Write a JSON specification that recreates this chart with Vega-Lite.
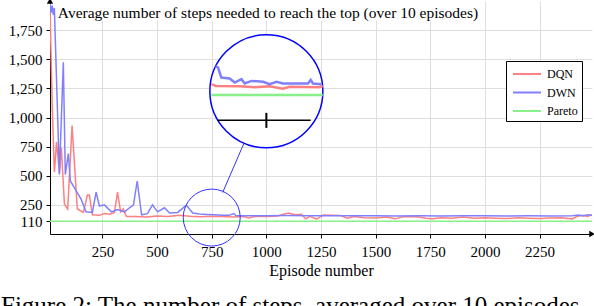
{
  "$schema": "https://vega.github.io/schema/vega-lite/v6.json",
  "width": 542,
  "height": 233,
  "autosize": "none",
  "padding": {"left": 50, "top": 1, "right": 2, "bottom": 72},
  "background": "white",
  "config": {
    "view": {"stroke": null},
    "font": "Liberation Serif",
    "axis": {
      "domainColor": "black", "domainWidth": 1, "tickColor": "black", "tickSize": 4,
      "labelColor": "black", "labelFont": "Liberation Serif", "labelFontSize": 15,
      "titleFont": "Liberation Serif", "titleFontSize": 16, "titleFontWeight": "normal", "titleColor": "black",
      "gridColor": "#dedede", "gridWidth": 1
    },
    "legend": {"labelFont": "Liberation Serif", "labelFontSize": 12, "labelColor": "black"}
  },
  "title": {
    "text": "Figure 2: The number of steps, averaged over 10 episodes",
    "orient": "bottom", "anchor": "start", "frame": "group", "dx": -49, "offset": 16,
    "font": "Liberation Serif", "fontSize": 25, "fontWeight": "normal", "color": "black"
  },
  "datasets": {
    "main": [
      {"s": "DQN", "ep": 10, "v": 1960}, {"s": "DQN", "ep": 20, "v": 1100}, {"s": "DQN", "ep": 30, "v": 530},
      {"s": "DQN", "ep": 40, "v": 790}, {"s": "DQN", "ep": 53, "v": 525}, {"s": "DQN", "ep": 62, "v": 740},
      {"s": "DQN", "ep": 76, "v": 255}, {"s": "DQN", "ep": 91, "v": 215}, {"s": "DQN", "ep": 111, "v": 930},
      {"s": "DQN", "ep": 135, "v": 215}, {"s": "DQN", "ep": 163, "v": 185}, {"s": "DQN", "ep": 181, "v": 335},
      {"s": "DQN", "ep": 190, "v": 335}, {"s": "DQN", "ep": 204, "v": 165}, {"s": "DQN", "ep": 236, "v": 160},
      {"s": "DQN", "ep": 259, "v": 175}, {"s": "DQN", "ep": 282, "v": 170}, {"s": "DQN", "ep": 305, "v": 185},
      {"s": "DQN", "ep": 319, "v": 360}, {"s": "DQN", "ep": 333, "v": 190}, {"s": "DQN", "ep": 345, "v": 215},
      {"s": "DQN", "ep": 360, "v": 150}, {"s": "DQN", "ep": 400, "v": 150}, {"s": "DQN", "ep": 450, "v": 145},
      {"s": "DQN", "ep": 500, "v": 155}, {"s": "DQN", "ep": 550, "v": 150}, {"s": "DQN", "ep": 600, "v": 160},
      {"s": "DQN", "ep": 650, "v": 152}, {"s": "DQN", "ep": 700, "v": 148}, {"s": "DQN", "ep": 750, "v": 152},
      {"s": "DQN", "ep": 800, "v": 150}, {"s": "DQN", "ep": 850, "v": 146}, {"s": "DQN", "ep": 900, "v": 150},
      {"s": "DQN", "ep": 920, "v": 138}, {"s": "DQN", "ep": 950, "v": 152}, {"s": "DQN", "ep": 1000, "v": 150},
      {"s": "DQN", "ep": 1050, "v": 155}, {"s": "DQN", "ep": 1100, "v": 180}, {"s": "DQN", "ep": 1130, "v": 165},
      {"s": "DQN", "ep": 1160, "v": 170}, {"s": "DQN", "ep": 1180, "v": 130}, {"s": "DQN", "ep": 1200, "v": 152},
      {"s": "DQN", "ep": 1230, "v": 128}, {"s": "DQN", "ep": 1260, "v": 162}, {"s": "DQN", "ep": 1300, "v": 160},
      {"s": "DQN", "ep": 1340, "v": 158}, {"s": "DQN", "ep": 1370, "v": 135}, {"s": "DQN", "ep": 1400, "v": 150},
      {"s": "DQN", "ep": 1450, "v": 140}, {"s": "DQN", "ep": 1500, "v": 138}, {"s": "DQN", "ep": 1550, "v": 145},
      {"s": "DQN", "ep": 1590, "v": 130}, {"s": "DQN", "ep": 1620, "v": 145}, {"s": "DQN", "ep": 1650, "v": 150},
      {"s": "DQN", "ep": 1700, "v": 146}, {"s": "DQN", "ep": 1730, "v": 135}, {"s": "DQN", "ep": 1760, "v": 130},
      {"s": "DQN", "ep": 1800, "v": 140}, {"s": "DQN", "ep": 1850, "v": 135}, {"s": "DQN", "ep": 1900, "v": 145},
      {"s": "DQN", "ep": 1950, "v": 135}, {"s": "DQN", "ep": 2000, "v": 140}, {"s": "DQN", "ep": 2050, "v": 135},
      {"s": "DQN", "ep": 2100, "v": 132}, {"s": "DQN", "ep": 2150, "v": 140}, {"s": "DQN", "ep": 2200, "v": 135},
      {"s": "DQN", "ep": 2250, "v": 132}, {"s": "DQN", "ep": 2300, "v": 138}, {"s": "DQN", "ep": 2350, "v": 140},
      {"s": "DQN", "ep": 2400, "v": 130}, {"s": "DQN", "ep": 2420, "v": 150}, {"s": "DQN", "ep": 2450, "v": 160},
      {"s": "DQN", "ep": 2470, "v": 150}, {"s": "DQN", "ep": 2490, "v": 165},

      {"s": "DWN", "ep": 10, "v": 1990}, {"s": "DWN", "ep": 15, "v": 1900}, {"s": "DWN", "ep": 20, "v": 1960},
      {"s": "DWN", "ep": 25, "v": 1880}, {"s": "DWN", "ep": 30, "v": 1940}, {"s": "DWN", "ep": 53, "v": 510},
      {"s": "DWN", "ep": 71, "v": 1475}, {"s": "DWN", "ep": 80, "v": 510}, {"s": "DWN", "ep": 94, "v": 690},
      {"s": "DWN", "ep": 103, "v": 455}, {"s": "DWN", "ep": 130, "v": 370}, {"s": "DWN", "ep": 152, "v": 300},
      {"s": "DWN", "ep": 175, "v": 190}, {"s": "DWN", "ep": 204, "v": 185}, {"s": "DWN", "ep": 221, "v": 360},
      {"s": "DWN", "ep": 236, "v": 240}, {"s": "DWN", "ep": 259, "v": 250}, {"s": "DWN", "ep": 291, "v": 190},
      {"s": "DWN", "ep": 319, "v": 210}, {"s": "DWN", "ep": 351, "v": 190}, {"s": "DWN", "ep": 374, "v": 225},
      {"s": "DWN", "ep": 392, "v": 250}, {"s": "DWN", "ep": 409, "v": 455}, {"s": "DWN", "ep": 429, "v": 165},
      {"s": "DWN", "ep": 456, "v": 175}, {"s": "DWN", "ep": 479, "v": 250}, {"s": "DWN", "ep": 502, "v": 190},
      {"s": "DWN", "ep": 534, "v": 225}, {"s": "DWN", "ep": 557, "v": 180}, {"s": "DWN", "ep": 594, "v": 185},
      {"s": "DWN", "ep": 626, "v": 235}, {"s": "DWN", "ep": 635, "v": 245}, {"s": "DWN", "ep": 663, "v": 180},
      {"s": "DWN", "ep": 695, "v": 172}, {"s": "DWN", "ep": 730, "v": 168}, {"s": "DWN", "ep": 764, "v": 165},
      {"s": "DWN", "ep": 800, "v": 160}, {"s": "DWN", "ep": 830, "v": 160}, {"s": "DWN", "ep": 851, "v": 175},
      {"s": "DWN", "ep": 862, "v": 157}, {"s": "DWN", "ep": 900, "v": 157}, {"s": "DWN", "ep": 1000, "v": 157},
      {"s": "DWN", "ep": 1100, "v": 158}, {"s": "DWN", "ep": 1200, "v": 156}, {"s": "DWN", "ep": 1300, "v": 157},
      {"s": "DWN", "ep": 1400, "v": 156}, {"s": "DWN", "ep": 1500, "v": 156}, {"s": "DWN", "ep": 1600, "v": 155},
      {"s": "DWN", "ep": 1700, "v": 156}, {"s": "DWN", "ep": 1800, "v": 155}, {"s": "DWN", "ep": 1900, "v": 157},
      {"s": "DWN", "ep": 2000, "v": 156}, {"s": "DWN", "ep": 2100, "v": 155}, {"s": "DWN", "ep": 2200, "v": 156},
      {"s": "DWN", "ep": 2300, "v": 155}, {"s": "DWN", "ep": 2400, "v": 156}, {"s": "DWN", "ep": 2430, "v": 162},
      {"s": "DWN", "ep": 2450, "v": 155}, {"s": "DWN", "ep": 2470, "v": 166}, {"s": "DWN", "ep": 2490, "v": 160},

      {"s": "Pareto", "ep": 10, "v": 110}, {"s": "Pareto", "ep": 2490, "v": 110}
    ],
    "inset": [
      {"s": "DQN", "ep": 749, "v": 1286}, {"s": "DQN", "ep": 768, "v": 1271}, {"s": "DQN", "ep": 878, "v": 1269},
      {"s": "DQN", "ep": 947, "v": 1260}, {"s": "DQN", "ep": 1015, "v": 1269}, {"s": "DQN", "ep": 1075, "v": 1247},
      {"s": "DQN", "ep": 1107, "v": 1264}, {"s": "DQN", "ep": 1244, "v": 1260}, {"s": "DQN", "ep": 1258, "v": 1271},
      {"s": "DWN", "ep": 768, "v": 1441}, {"s": "DWN", "ep": 779, "v": 1429}, {"s": "DWN", "ep": 794, "v": 1343},
      {"s": "DWN", "ep": 832, "v": 1335}, {"s": "DWN", "ep": 855, "v": 1300}, {"s": "DWN", "ep": 886, "v": 1329},
      {"s": "DWN", "ep": 901, "v": 1292}, {"s": "DWN", "ep": 932, "v": 1314}, {"s": "DWN", "ep": 985, "v": 1306},
      {"s": "DWN", "ep": 1015, "v": 1286}, {"s": "DWN", "ep": 1046, "v": 1306}, {"s": "DWN", "ep": 1076, "v": 1292},
      {"s": "DWN", "ep": 1190, "v": 1292}, {"s": "DWN", "ep": 1203, "v": 1323}, {"s": "DWN", "ep": 1213, "v": 1292},
      {"s": "DWN", "ep": 1252, "v": 1286},
      {"s": "Pareto", "ep": 749, "v": 1194}, {"s": "Pareto", "ep": 1258, "v": 1194}
    ]
  },
  "encoding": {
    "x": {"field": "ep", "type": "quantitative", "scale": {"domain": [10, 2490], "nice": false, "zero": false},
      "axis": {"title": "Episode number", "values": [250, 500, 750, 1000, 1250, 1500, 1750, 2000, 2250],
        "labelExpr": "format(datum.value, 'd')",
        "labelPadding": 6, "titlePadding": 3, "labelFlush": false, "labelFont": "Liberation Serif", "labelOverlap": false}},
    "y": {"field": "v", "type": "quantitative", "scale": {"domain": [0, 2000], "nice": false, "zero": true},
      "axis": {"title": null, "values": [110, 250, 500, 750, 1000, 1250, 1500, 1750],
        "labelExpr": "format(datum.value, ',d')",
        "labelPadding": 4, "labelFlush": false, "labelFont": "Liberation Serif", "labelOverlap": false}}
  },
  "layer": [
    {
      "data": {"name": "main"},
      "mark": {"type": "line", "strokeWidth": 1.5, "clip": true},
      "encoding": {
        "color": {"field": "s", "type": "nominal",
          "scale": {"domain": ["DQN", "DWN", "Pareto"], "range": ["#ff8080", "#8080ff", "#88f088"]},
          "legend": {"title": null, "orient": "none", "legendX": 456, "legendY": 60, "strokeColor": "black", "fillColor": "white",
            "padding": 4, "symbolType": "M-1.75,0H1.75", "symbolStrokeWidth": 2, "symbolSize": 256, "symbolOffset": 8,
            "labelFont": "Liberation Serif", "labelFontSize": 12, "labelColor": "black", "rowPadding": 3.5, "labelOffset": 11,
            "cornerRadius": 0}}
      }
    },
    {
      "data": {"values": [{"ep": 2490, "v": 0, "shp": "triangle-right"}, {"ep": 10, "v": 2000, "shp": "triangle-up"}]},
      "mark": {"type": "point", "filled": true, "color": "black", "size": 40, "opacity": 1},
      "encoding": {"shape": {"field": "shp", "type": "nominal", "scale": null, "legend": null}}
    },
    {
      "data": {"values": [{"ep": 41, "ep2": 1960, "v": 1830, "v2": 2000}]},
      "mark": {"type": "rect", "fill": "white"},
      "encoding": {"x2": {"field": "ep2"}, "y2": {"field": "v2"}}
    },
    {
      "data": {"values": [{"ep": 46, "v": 1858, "label": "Average number of steps needed to reach the top (over 10 episodes)"}]},
      "mark": {"type": "text", "align": "left", "baseline": "alphabetic", "font": "Liberation Serif", "fontSize": 15.5, "color": "black"},
      "encoding": {"text": {"field": "label"}}
    },
    {
      "data": {"values": [{"ep": 750, "v": 141}]},
      "mark": {"type": "point", "shape": "circle", "filled": false, "stroke": "#3333ff", "strokeWidth": 1, "size": 3249, "opacity": 1}
    },
    {
      "data": {"values": [{"ep": 800, "v": 356, "ep2": 901, "v2": 794}]},
      "mark": {"type": "rule", "stroke": "#3333ff", "strokeWidth": 1},
      "encoding": {"x2": {"field": "ep2"}, "y2": {"field": "v2"}}
    },
    {
      "data": {"values": [{"ep": 1000, "v": 1225}]},
      "mark": {"type": "point", "shape": "circle", "filled": true, "fill": "white", "stroke": "#0000ff", "strokeWidth": 1.5, "size": 12769, "opacity": 1}
    },
    {
      "data": {"name": "inset"},
      "mark": {"type": "line", "strokeWidth": 2.5},
      "encoding": {"color": {"field": "s", "type": "nominal",
        "legend": {"title": null, "orient": "none", "legendX": 456, "legendY": 60, "strokeColor": "black", "fillColor": "white",
            "padding": 4, "symbolType": "M-1.75,0H1.75", "symbolStrokeWidth": 2, "symbolSize": 256, "symbolOffset": 8,
            "labelFont": "Liberation Serif", "labelFontSize": 12, "labelColor": "black", "rowPadding": 3.5, "labelOffset": 11,
            "cornerRadius": 0}}}
    },
    {
      "data": {"values": [{"ep": 777, "ep2": 1203, "v": 976}]},
      "mark": {"type": "rule", "stroke": "black", "strokeWidth": 1.5},
      "encoding": {"x2": {"field": "ep2"}}
    },
    {
      "data": {"values": [{"ep": 1000, "v": 911, "v2": 1040}]},
      "mark": {"type": "rule", "stroke": "black", "strokeWidth": 2},
      "encoding": {"y2": {"field": "v2"}}
    }
  ]
}
